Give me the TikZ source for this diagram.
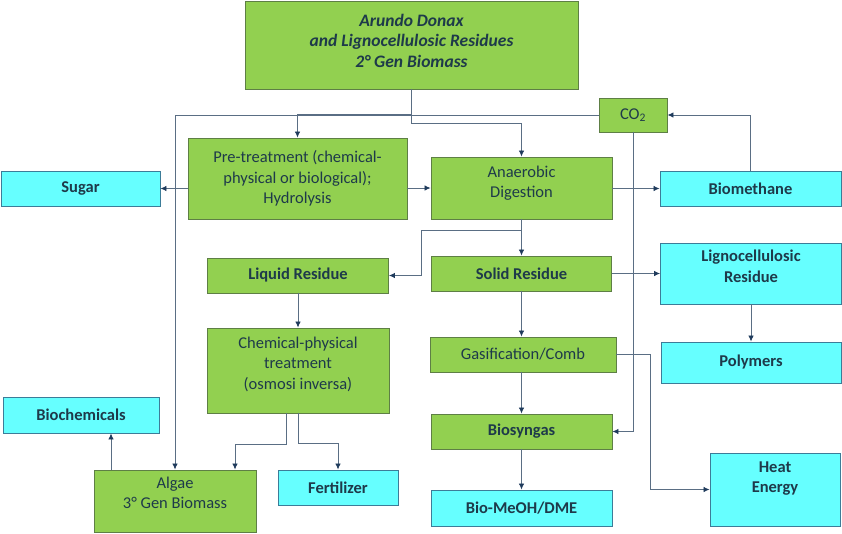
\documentclass[tikz,border=0pt]{standalone}
\usepackage{fontspec}
\setmainfont{Carlito}
\usetikzlibrary{arrows.meta,calc}
\definecolor{greenfill}{HTML}{92D050}
\definecolor{greenline}{HTML}{5E7F45}
\definecolor{cyanfill}{HTML}{66FFFF}
\definecolor{cyanline}{HTML}{3C7C98}
\definecolor{textc}{HTML}{1E3A4A}
\definecolor{flowc}{HTML}{5A6E84}
\definecolor{tipc}{HTML}{1F3B5C}
\begin{document}
\begin{tikzpicture}[x=1pt,y=-1pt,
	font=\fontsize{16.5}{20.5}\selectfont,
	gbox/.style={draw=greenline, fill=greenfill, line width=0.9pt, text=textc, align=center, inner sep=2pt},
	cbox/.style={draw=cyanline, fill=cyanfill, line width=0.9pt, text=textc, align=center, inner sep=2pt, font=\fontsize{16.5}{20.5}\selectfont\bfseries},
	bold/.style={font=\fontsize{16.5}{20.5}\selectfont\bfseries},
	flow/.style={draw=flowc, line width=0.8pt, -{Latex[length=6pt,width=5.5pt,color=tipc]}}]
	\useasboundingbox (0,0) rectangle (842,533);
	\node (top)     at (411.5, 45)  [gbox, minimum width=333, minimum height=88, font=\fontsize{17.5}{20.5}\selectfont\bfseries\itshape]	{Arundo Donax\\and Lignocellulosic Residues\\2° Gen Biomass\\[-12pt]};
	\node (co2)     at (633, 115)   [gbox, minimum width=68, minimum height=34]	{CO\textsubscript{2}};
	\node (pre)     at (297.5, 178.5) [gbox, minimum width=219, minimum height=81]	{Pre-treatment (chemical-\\physical or biological);\\Hydrolysis};
	\node (sugar)   at (80.5, 188.5) [cbox, minimum width=159, minimum height=35]	{Sugar};
	\node (anaer)   at (521.5, 188)  [gbox, minimum width=181, minimum height=62]	{Anaerobic\\Digestion\\[-8pt]};
	\node (biometh) at (750.5, 188.5) [cbox, minimum width=181, minimum height=35]	{Biomethane};
	\node (liquid)  at (298, 275.5)  [gbox, minimum width=181, minimum height=35, bold]	{Liquid Residue};
	\node (solid)   at (521.5, 273.5) [gbox, minimum width=180, minimum height=35, bold]	{Solid Residue};
	\node (ligno)   at (751, 273.5)  [cbox, minimum width=181, minimum height=61]	{Lignocellulosic\\Residue\\[-6pt]};
	\node (chem)    at (298, 370.5)  [gbox, minimum width=182, minimum height=85]	{Chemical-physical\\treatment\\(osmosi inversa)\\[-6pt]};
	\node (gasif)   at (523, 354.5)  [gbox, minimum width=186, minimum height=35]	{Gasification/Comb};
	\node (polym)   at (751, 362.5)  [cbox, minimum width=180, minimum height=41]	{Polymers};
	\node (biochem) at (81, 415)     [cbox, minimum width=156, minimum height=36]	{Biochemicals};
	\node (biosyn)  at (521.5, 431.5) [gbox, minimum width=181, minimum height=35, bold]	{Biosyngas};
	\node (algae)   at (175, 501)    [gbox, minimum width=162, minimum height=62]	{Algae\\3° Gen Biomass\\[-4pt]};
	\node (fert)    at (338, 487.5)  [cbox, minimum width=120, minimum height=35]	{Fertilizer};
	\node (meoh)    at (521.5, 508)  [cbox, minimum width=181, minimum height=36]	{Bio-MeOH/DME};
	\node (heat)    at (775, 489.5)  [cbox, minimum width=130, minimum height=73]	{Heat\\Energy\\[4pt]};
	\coordinate (lbend) at (421, 230);
	\draw[flow] (top.south) -- ++(0,25) -| (pre.north);
	\draw[flow] (top.south) -- ++(0,34) -| (anaer.north);
	\draw[flow] (co2.west) -| (algae.north);
	\draw[flow] (pre.west |- sugar) -- (sugar);
	\draw[flow] (pre.east |- anaer) -- (anaer);
	\draw[flow] (anaer.east |- biometh) -- (biometh);
	\draw[flow] (biometh.north) |- (co2.east);
	\draw[flow] (co2.south) |- (biosyn.east);
	\draw[flow] (anaer.south) -- (solid.north);
	\draw[flow] (anaer.south) |- (lbend) |- (liquid.east);
	\draw[flow] (solid) -- (ligno);
	\draw[flow] (solid.south) -- (solid.south |- gasif.north);
	\draw[flow] (ligno.south) -- (polym.north);
	\draw[flow] (gasif.south -| biosyn.north) -- (biosyn.north);
	\draw[flow] (gasif.east) -- ++(34,0) |- (heat.west);
	\draw[flow] (biosyn.south) -- (meoh.north);
	\draw[flow] (liquid.south) -- (chem.north);
	\draw[flow] ($(chem.south)+(-12,0)$) -- ++(0,31) -| ($(algae.north)+(60,0)$);
	\draw[flow] (chem.south) -- ++(0,30) -| (fert.north);
	\draw[flow] ($(algae.north)+(-64,0)$) coordinate (a1) -- (a1 |- biochem.south);
\end{tikzpicture}
\end{document}
